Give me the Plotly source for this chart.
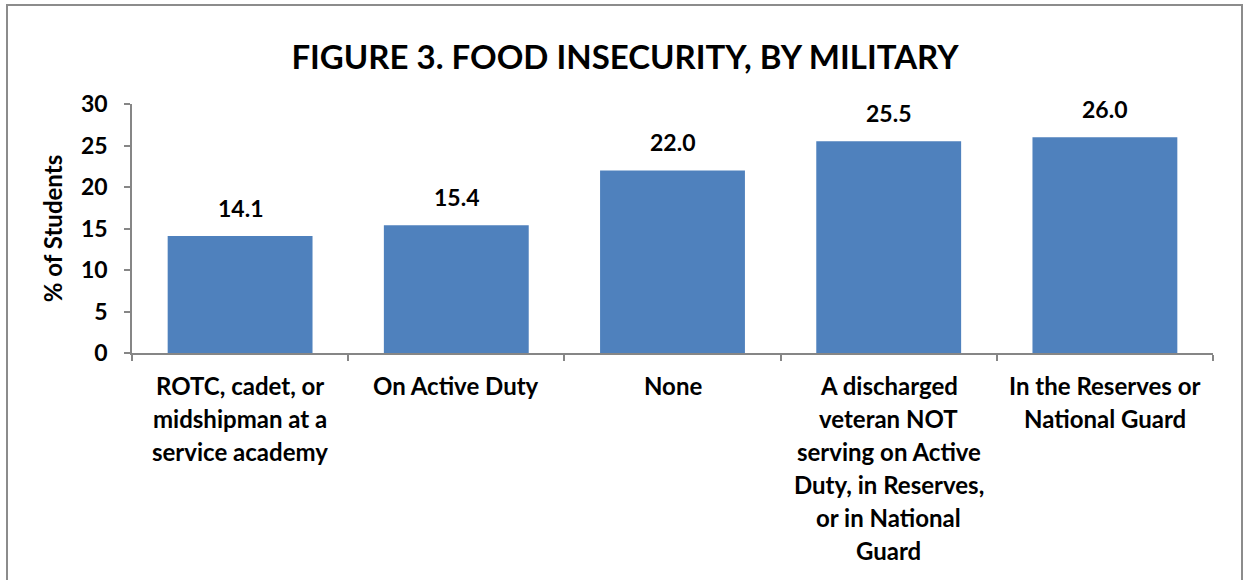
import plotly.graph_objects as go

# Food insecurity rate by military status
categories = [
    "ROTC, cadet, or<br>midshipman at a<br>service academy",
    "On Active Duty",
    "None",
    "A discharged<br>veteran NOT<br>serving on Active<br>Duty, in Reserves,<br>or in National<br>Guard",
    "In the Reserves or<br>National Guard",
]
values = [14.1, 15.4, 22.0, 25.5, 26.0]
y_ticks = [0, 5, 10, 15, 20, 25, 30]

FONT = "Lato"
AXIS_GREY = "#868686"
BAR_BLUE = "#4F81BD"

W, H = 1244, 580
ML, MR, MT, MB = 132, 31, 104, 227

fig = go.Figure(
    go.Bar(
        x=categories,
        y=values,
        marker=dict(color=BAR_BLUE, line=dict(width=0)),
        hoverinfo="x+y",
    )
)

annotations = []

# value labels above each bar
for cat, v in zip(categories, values):
    annotations.append(
        dict(
            x=cat, y=v, xref="x", yref="y",
            text=f"<b>{v:.1f}</b>",
            showarrow=False,
            yanchor="bottom",
            yshift=12,
            font=dict(family=FONT, size=23, color="#000000"),
        )
    )

# category labels, one annotation per line for Excel-like line spacing
for cat in categories:
    for i, line in enumerate(cat.split("<br>")):
        annotations.append(
            dict(
                x=cat, y=0, xref="x", yref="y",
                text=f"<b>{line}</b>",
                showarrow=False,
                yanchor="middle",
                yshift=-(32 + 33 * i),
                font=dict(family=FONT, size=24, color="#000000"),
            )
        )

pw = W - ML - MR
ph = H - MT - MB
fig.add_shape(
    type="rect", xref="paper", yref="paper",
    x0=(7 - ML) / pw, x1=(1242 - ML) / pw,
    y0=-1.2, y1=(H - MB - 5) / ph,
    line=dict(color="#8C8C8C", width=2),
    fillcolor="rgba(0,0,0,0)",
    layer="below",
)

fig.update_layout(
    width=W, height=H,
    margin=dict(l=ML, r=MR, t=MT, b=MB),
    paper_bgcolor="#FFFFFF",
    plot_bgcolor="#FFFFFF",
    showlegend=False,
    bargap=0.33,
    title=dict(
        text="<b>FIGURE 3. FOOD INSECURITY, BY MILITARY</b>",
        x=625 / W, xanchor="center",
        y=1 - 57 / H, yanchor="middle",
        font=dict(family=FONT, size=33, color="#000000"),
    ),
    annotations=annotations,
    font=dict(family=FONT, color="#000000"),
)

fig.update_xaxes(
    showticklabels=False,
    showline=True, linecolor=AXIS_GREY, linewidth=1.5,
    ticks="outside", tickson="boundaries", ticklen=6,
    tickcolor=AXIS_GREY, tickwidth=1.5,
    showgrid=False,
)
fig.update_yaxes(
    range=[0, 30],
    tickvals=y_ticks,
    ticktext=[f"<b>{t}</b>" for t in y_ticks],
    tickfont=dict(family=FONT, size=23, color="#000000"),
    ticklabelstandoff=12,
    showline=True, linecolor=AXIS_GREY, linewidth=1.5,
    ticks="outside", ticklen=6, tickcolor=AXIS_GREY, tickwidth=1.5,
    showgrid=False, zeroline=False,
    title=dict(text="<b>% of Students</b>", font=dict(family=FONT, size=24, color="#000000"), standoff=12),
)

fig.write_html("out.html")
